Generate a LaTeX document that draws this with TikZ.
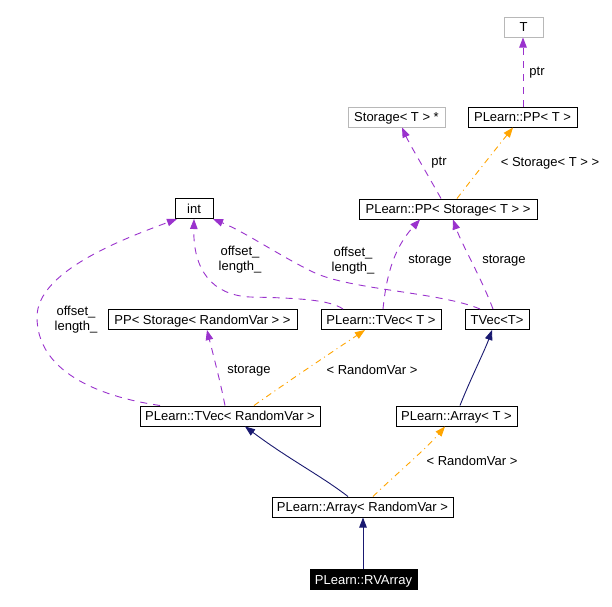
\documentclass[tikz,border=0pt]{standalone}
\usepackage{fontspec}
\setmainfont{Liberation Sans}
\usetikzlibrary{arrows.meta}
\definecolor{epurple}{HTML}{9A32CD}
\definecolor{eorange}{HTML}{FFA500}
\definecolor{enavy}{HTML}{191970}
\begin{document}
\begin{tikzpicture}[x=1pt,y=-1pt,
  txt/.style={font=\fontsize{13}{15}\selectfont},
  box/.style={txt, draw=black, line width=1pt, inner sep=0pt, minimum height=20pt, text height=9pt, text depth=0pt, fill=white},
  gbox/.style={box, draw=black!28},
  hbox/.style={box, fill=black, text=white},
  lbl/.style={txt, inner sep=0pt, align=center},
  tip/.style={-{Triangle[length=10pt,width=7.5pt]}},
  usage/.style={tip, draw=epurple, line width=0.9pt, dash pattern=on 7pt off 6pt},
  tmpl/.style={tip, draw=eorange, line width=0.9pt, dash pattern=on 6pt off 4pt on 1pt off 4pt},
  inh/.style={tip, draw=enavy, line width=0.9pt}]
\useasboundingbox (0,0) rectangle (612,606);
\fill[white] (0,0) rectangle (612,606);

% nodes
\node[gbox, minimum width=39pt]  (T)     at (523.5,27)  {T};
\node[box,  minimum width=109pt] (PPT)   at (522.5,117) {PLearn::PP< T >};
\node[gbox, minimum width=97pt]  (StorT) at (396.5,117) {Storage< T > *};
\node[box,  minimum width=178pt] (PPS)   at (448,209)   {PLearn::PP< Storage< T > >};
\node[box,  minimum width=38pt]  (int)   at (194,208.5) {int};
\node[box,  minimum width=189pt] (PPSR)  at (202.5,319.5) {PP< Storage< RandomVar > >};
\node[box,  minimum width=120pt] (TVecT) at (381,319.5) {PLearn::TVec< T >};
\node[box,  minimum width=64pt]  (TVecTT) at (497,319.5) {TVec<T>};
\node[box,  minimum width=180pt] (TVecR) at (230,416)   {PLearn::TVec< RandomVar >};
\node[box,  minimum width=121pt] (ArrT)  at (456.5,416) {PLearn::Array< T >};
\node[box,  minimum width=181pt] (ArrR)  at (362.5,507) {PLearn::Array< RandomVar >};
\node[hbox, minimum width=107pt] (RV)    at (363.5,579.5) {PLearn::RVArray};

% edges
\draw[usage] ([xshift=0.5pt]PPT.north) -- ([xshift=-0.5pt]T.south);
\node[lbl] (l1) at (537,73) {ptr};

\draw[usage] ([xshift=-7pt]PPS.north) .. controls (425,170) and (410,145) .. ([xshift=5.5pt]StorT.south);
\node[lbl] (l2) at (439,163) {ptr};

\draw[tmpl] ([xshift=9pt]PPS.north) .. controls (475,175) and (495,150) .. ([xshift=-9.5pt]PPT.south);
\node[lbl] (l3) at (550,163) {< Storage< T > >};

\draw[usage] ([xshift=2pt]TVecT.north) .. controls (386,280) and (392,250) .. ([xshift=-28pt]PPS.south);
\node[lbl] (l4) at (430,261) {storage};

\draw[usage] ([xshift=-4pt]TVecTT.north) .. controls (480,275) and (462,245) .. ([xshift=5pt]PPS.south);
\node[lbl] (l5) at (504,261) {storage};

\draw[usage] ([xshift=-17pt]TVecTT.north) .. controls (440,292) and (350,290) .. (313,272)
   .. controls (280,256) and (245,232) .. ([xshift=19pt]int.south);
\node[lbl] (l6) at (353,261) {offset\_\\length\_};

\draw[usage] ([xshift=-38pt]TVecT.north) .. controls (330,300) and (300,298) .. (250,297)
   .. controls (212,295) and (193,270) .. (int.south);
\node[lbl] (l7) at (240,260) {offset\_\\length\_};

\draw[usage] ([xshift=-70pt]TVecR.north) .. controls (95,396) and (37,370) .. (37,317)
   .. controls (37,272) and (120,240) .. ([xshift=-17pt]int.south);
\node[lbl] (l8) at (76,320) {offset\_\\length\_};

\draw[usage] ([xshift=-5pt]TVecR.north) .. controls (220,380) and (212,350) .. ([xshift=4.5pt]PPSR.south);
\node[lbl] (l9) at (249,371) {storage};

\draw[tmpl] ([xshift=24pt]TVecR.north) .. controls (290,380) and (335,350) .. ([xshift=-16pt]TVecT.south);
\node[lbl] (l10) at (372,370) {< RandomVar >};

\draw[inh] ([xshift=3.5pt]ArrT.north) .. controls (470,380) and (485,350) .. ([xshift=-5pt]TVecTT.south);

\draw[inh] ([xshift=-14.5pt]ArrR.north) .. controls (320,475) and (290,460) .. ([xshift=15pt]TVecR.south);
\draw[tmpl] ([xshift=10.5pt]ArrR.north) .. controls (395,475) and (425,450) .. ([xshift=-11.5pt]ArrT.south);
\node[lbl] (l11) at (472,461) {< RandomVar >};

\draw[inh] ([xshift=-0.5pt]RV.north) -- ([xshift=0.5pt]ArrR.south);
\end{tikzpicture}
\end{document}
